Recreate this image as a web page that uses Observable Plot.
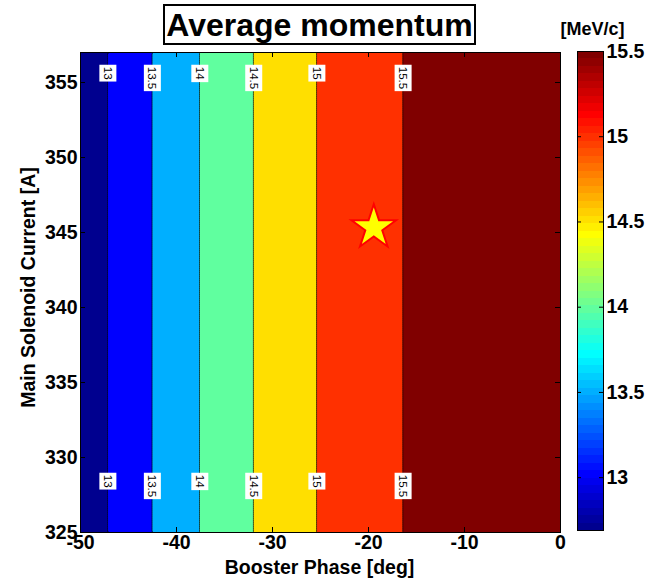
<!DOCTYPE html>
<html>
<head>
<meta charset="utf-8">
<script src="https://cdn.jsdelivr.net/npm/d3@7"></script>
<script src="https://cdn.jsdelivr.net/npm/@observablehq/plot@0.6"></script>
<style>
  html, body { margin: 0; padding: 0; background: #fff; }
  #chart { position: relative; width: 655px; height: 587px; font-family: "Liberation Sans", Arial, sans-serif; }
  #main { position: absolute; left: 0; top: 0; }
  #cbar { position: absolute; left: 570px; top: 0; }
  #title {
    position: absolute; left: 163px; top: 4px; width: 313px; height: 41px;
    box-sizing: border-box; border: 2px solid #000; background: #fff;
    font-weight: bold; font-size: 32px; line-height: 37px; padding-top: 1px;
    text-align: center; white-space: nowrap;
  }
</style>
</head>
<body>
<div id="chart">
  <div id="main"></div>
  <div id="cbar"></div>
  <div id="title">Average momentum</div>
</div>
<script>
// Booster phase scan (deg) and the mean beam momentum (MeV/c) at each phase
const phases   = [-50, -45, -40, -35, -30, -25, -20, -15, -10, -5, 0];
const momentum = [12.69, 13.24, 13.77, 14.25, 14.665, 15.03, 15.30, 15.58, 15.74, 15.83, 15.87];
// Main solenoid currents (A) of the scan rows
const currents = [325, 333, 341, 349, 357];
// Contour levels (MeV/c)
const levels = [13, 13.5, 14, 14.5, 15, 15.5];
// Axis ticks
const xTicks = [-50, -40, -30, -20, -10, 0];
const yTicks = [325, 330, 335, 340, 345, 350, 355];
const cTicks = [13, 13.5, 14, 14.5, 15, 15.5];
// Operating point
const workingPoint = [{phase: -19.45, current: 345.33}];
// Rows on which the contour levels are labelled
const labelCurrents = [356.05, 328.85];

const FONT = '"Liberation Sans", Arial, sans-serif';

// MATLAB-style jet colormap with 64 entries
function jet64(t) {
  const n = 64;
  let k = Math.floor(t * n) + 1;
  k = Math.max(1, Math.min(n, k));
  const u = j => (j < 1 || j > 47) ? 0 : j <= 16 ? j / 16 : j <= 31 ? 1 : (48 - j) / 16;
  const r = u(k - 24), g = u(k - 8), b = u(k + 8);
  return `rgb(${Math.round(r * 255)},${Math.round(g * 255)},${Math.round(b * 255)})`;
}

const cmin = d3.min(momentum);
const cmax = d3.max(levels);
const colorScale = {type: "linear", domain: [cmin, cmax], interpolate: jet64, clamp: true};

// Scan grid: every current row with every phase column
const grid = currents.flatMap(c => phases.map((p, i) => ({phase: p, current: c, momentum: momentum[i]})));

// Phase at which the momentum crosses a given level (linear between scan points)
function crossing(level) {
  for (let i = 0; i < phases.length - 1; i++) {
    const a = momentum[i], b = momentum[i + 1];
    if ((a - level) * (b - level) <= 0 && a !== b) {
      return phases[i] + (level - a) / (b - a) * (phases[i + 1] - phases[i]);
    }
  }
  return NaN;
}
const contourLabels = labelCurrents.flatMap(c => levels.map(l => ({phase: crossing(l), current: c, text: String(l)})));

const fmt = d => String(d);

const main = Plot.plot({
  width: 570, height: 587,
  marginLeft: 80, marginRight: 10, marginTop: 52, marginBottom: 55,
  x: {domain: [-50, 0]},
  y: {domain: [325, 357]},
  color: colorScale,
  style: {fontFamily: FONT, fontSize: "19.5px", fontWeight: "bold", background: "transparent", color: "black", overflow: "visible"},
  marks: [
    Plot.contour(grid, {
      x: "phase", y: "current", value: "momentum", fill: "value",
      thresholds: [cmin, ...levels], interpolate: "barycentric",
      stroke: "black", strokeWidth: 0.8, strokeOpacity: 0.85
    }),
    Plot.frame({stroke: "black"}),
    // inward ticks on all four sides
    Plot.ruleX(xTicks, {x: d => d, insetTop: 475, stroke: "black"}),
    Plot.ruleX(xTicks, {x: d => d, insetBottom: 475, stroke: "black"}),
    Plot.ruleY(yTicks, {y: d => d, insetRight: 475, stroke: "black"}),
    Plot.ruleY(yTicks, {y: d => d, insetLeft: 475, stroke: "black"}),
    Plot.axisX(xTicks, {tickSize: 0, tickPadding: 3, tickFormat: fmt, label: null}),
    Plot.axisY(yTicks, {tickSize: 0, tickPadding: 3, tickFormat: fmt, label: null}),
    Plot.text(contourLabels, {
      x: "phase", y: "current", text: "text", rotate: 90, textAnchor: "start",
      fontSize: 11.5, fontWeight: "normal", fill: "black",
      ariaDescription: "contour labels"
    }),
    Plot.dot(workingPoint, {x: "phase", y: "current", symbol: "star", r: 14, fill: "#ffff00", stroke: "#ff0000", strokeWidth: 2}),
    Plot.text(["Booster Phase [deg]"], {
      text: d => d, frameAnchor: "bottom", textAnchor: "middle", lineAnchor: "middle",
      dx: -1, dy: 35, fontSize: 19.5, fontWeight: "bold"
    }),
    Plot.text(["Main Solenoid Current [A]"], {
      text: d => d, frameAnchor: "left", textAnchor: "middle", lineAnchor: "middle",
      rotate: -90, dx: -52, dy: -5, fontSize: 19.5, fontWeight: "bold"
    })
  ]
});
document.getElementById("main").append(main);

// White boxes behind the contour labels
{
  const g = main.querySelector('g[aria-description="contour labels"]');
  if (g) {
    g.querySelectorAll("text").forEach(t => {
      const b = t.getBBox();
      const r = document.createElementNS("http://www.w3.org/2000/svg", "rect");
      r.setAttribute("x", b.x - 2);
      r.setAttribute("y", b.y - 2.5);
      r.setAttribute("width", b.width + 4);
      r.setAttribute("height", b.height + 5);
      r.setAttribute("fill", "white");
      r.setAttribute("stroke", "none");
      const tr = t.getAttribute("transform");
      if (tr) r.setAttribute("transform", tr);
      t.parentNode.insertBefore(r, t);
    });
  }
}

// Colorbar: 64 colormap steps across the colour range
const nSteps = 64;
const step = (cmax - cmin) / nSteps;
const steps = d3.range(nSteps).map(i => ({lo: cmin + i * step, hi: cmin + (i + 1) * step}));

const cbar = Plot.plot({
  width: 85, height: 587,
  marginLeft: 7, marginRight: 52, marginTop: 51, marginBottom: 57,
  x: {domain: [0, 1], axis: null},
  y: {domain: [cmin, cmax]},
  color: colorScale,
  style: {fontFamily: FONT, fontSize: "19.5px", fontWeight: "bold", background: "transparent", color: "black", overflow: "visible"},
  marks: [
    Plot.rect(steps, {x1: 0, x2: 1, y1: "lo", y2: "hi", fill: d => (d.lo + d.hi) / 2, shapeRendering: "crispEdges"}),
    Plot.frame({stroke: "black"}),
    Plot.ruleY(cTicks, {y: d => d, insetRight: 22, stroke: "black"}),
    Plot.ruleY(cTicks, {y: d => d, insetLeft: 22, stroke: "black"}),
    Plot.axisY(cTicks, {anchor: "right", tickSize: 0, tickPadding: 3, tickFormat: fmt, label: null}),
    Plot.text(["[MeV/c]"], {
      text: d => d, frameAnchor: "top", textAnchor: "middle", lineAnchor: "middle",
      dx: 2, dy: -22, fontSize: 18, fontWeight: "bold"
    })
  ]
});
document.getElementById("cbar").append(cbar);
</script>
</body>
</html>
